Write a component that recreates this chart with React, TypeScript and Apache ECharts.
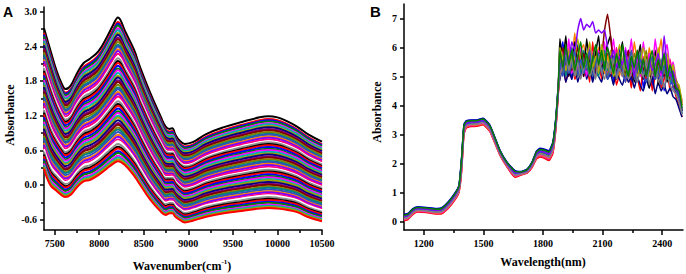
import React, { useEffect, useRef } from "react";
import * as echarts from "echarts";

// ---------- Panel A (wavenumber spectra) ----------
const wavenumberA = [7380, 7450, 7520, 7580, 7620, 7680, 7750, 7825, 7900, 7990, 8090, 8150, 8210, 8290, 8390, 8460, 8570, 8690, 8745, 8790, 8820, 8855, 8900, 8960, 9050, 9200, 9400, 9600, 9800, 9900, 10000, 10100, 10220, 10350, 10500];
const topSpectrumA = [2.71, 2.34, 1.98, 1.75, 1.66, 1.72, 1.93, 2.11, 2.19, 2.31, 2.57, 2.75, 2.9, 2.66, 2.34, 2.03, 1.6, 1.18, 1.01, 0.97, 0.98, 0.87, 0.77, 0.71, 0.74, 0.88, 1.0, 1.09, 1.17, 1.19, 1.17, 1.11, 1.01, 0.87, 0.75];
const bottomSpectrumA = [0.28, 0.0, -0.1, -0.18, -0.21, -0.17, -0.04, 0.06, 0.09, 0.17, 0.29, 0.36, 0.41, 0.34, 0.16, 0.0, -0.25, -0.46, -0.52, -0.49, -0.49, -0.55, -0.6, -0.65, -0.62, -0.55, -0.49, -0.45, -0.41, -0.4, -0.41, -0.43, -0.47, -0.56, -0.63];
// absorbance of each spectrum at 10000 cm-1
const levelsAt10000A = [1.17, 1.12, 1.1, 1.08, 1.05, 1.03, 1.0, 0.98, 0.95, 0.93, 0.9, 0.87, 0.85, 0.82, 0.8, 0.77, 0.74, 0.72, 0.69, 0.67, 0.64, 0.61, 0.59, 0.56, 0.53, 0.51, 0.48, 0.46, 0.43, 0.4, 0.38, 0.35, 0.33, 0.3, 0.27, 0.25, 0.22, 0.2, 0.17, 0.14, 0.12, 0.09, 0.07, 0.04, 0.01, -0.01, -0.04, -0.06, -0.09, -0.12, -0.14, -0.17, -0.19, -0.22, -0.25, -0.27, -0.3, -0.32, -0.35, -0.37, -0.39, -0.41];
const ticksXA = [7500, 8000, 8500, 9000, 9500, 10000, 10500];
const minorXA = [7750, 8250, 8750, 9250, 9750, 10250];
const ticksYA = [-0.6, 0, 0.6, 1.2, 1.8, 2.4, 3.0];
const minorYA = [-0.3, 0.3, 0.9, 1.5, 2.1, 2.7];

// ---------- Panel B (wavelength spectra) ----------
const wavelengthB = [1100, 1120, 1145, 1170, 1212, 1263, 1290, 1321, 1355, 1377, 1390, 1402, 1414, 1440, 1465, 1498, 1532, 1583, 1618, 1659, 1690, 1720, 1745, 1767, 1785, 1805, 1830, 1850, 1865, 1877];
const topBundleB = [0.24, 0.27, 0.44, 0.5, 0.48, 0.44, 0.47, 0.66, 0.96, 1.25, 2.2, 3.35, 3.47, 3.5, 3.5, 3.56, 3.33, 2.46, 2.05, 1.75, 1.72, 1.8, 2.05, 2.42, 2.52, 2.5, 2.44, 2.75, 3.6, 4.7];
const bottomBundleB = [0.02, 0.06, 0.24, 0.32, 0.3, 0.25, 0.26, 0.43, 0.72, 1.0, 1.7, 3.0, 3.22, 3.27, 3.28, 3.33, 3.1, 2.28, 1.88, 1.52, 1.6, 1.66, 1.85, 2.15, 2.22, 2.18, 2.1, 2.35, 3.2, 4.4];
const noiseWavelengthB = [1885, 1900, 1915, 1930, 1945, 1960, 1975, 1990, 2005, 2020, 2035, 2050, 2065, 2080, 2095, 2110, 2125, 2140, 2155, 2170, 2185, 2200, 2215, 2230, 2245, 2260, 2275, 2290, 2305, 2320, 2335, 2350, 2365, 2380, 2395, 2410, 2425, 2440, 2455, 2470, 2485, 2500];
const bBlue = [5.6, 6.2, 5.1, 5.8, 4.9, 5.5, 6.1, 5.0, 5.7, 5.2, 6.0, 4.9, 5.4, 5.9, 5.0, 5.6, 5.1, 5.8, 4.8, 5.5, 6.0, 5.0, 5.3, 5.9, 4.7, 5.4, 5.0, 5.7, 4.6, 5.2, 5.8, 4.6, 5.3, 4.9, 5.5, 4.5, 5.1, 4.7, 4.9, 4.4, 4.2, 3.7];
const bNavy = [4.9, 5.3, 4.8, 5.2, 4.9, 5.4, 4.8, 5.2, 5.5, 4.9, 5.3, 4.8, 5.2, 5.0, 4.8, 5.3, 4.9, 5.1, 4.7, 5.2, 4.9, 4.7, 5.1, 4.8, 5.0, 4.6, 5.0, 4.7, 4.5, 4.9, 4.6, 5.0, 4.4, 4.8, 4.5, 4.7, 4.4, 4.6, 4.3, 4.2, 3.9, 3.6];
const bGreen = [5.9, 5.3, 6.1, 5.4, 5.9, 5.2, 5.7, 6.2, 5.3, 5.8, 5.1, 5.6, 6.1, 5.4, 5.9, 5.2, 6.0, 5.5, 5.1, 5.8, 5.3, 6.1, 5.4, 5.0, 5.7, 5.3, 5.9, 5.1, 5.6, 5.0, 5.5, 5.9, 5.0, 5.6, 5.2, 5.8, 4.9, 5.4, 5.0, 4.6, 4.5, 3.9];
const bBlack = [6.3, 5.5, 6.4, 5.0, 5.6, 6.2, 5.3, 5.9, 5.0, 6.3, 5.4, 5.1, 5.8, 6.4, 5.2, 5.7, 6.1, 6.4, 5.3, 4.9, 5.6, 6.2, 5.1, 5.8, 5.4, 4.8, 5.5, 6.1, 4.9, 5.3, 4.6, 5.4, 5.9, 4.7, 5.2, 5.7, 4.8, 5.3, 5.0, 4.5, 4.3, 3.8];
const bDarkCyan = [5.3, 5.7, 5.0, 5.5, 6.0, 5.2, 5.6, 5.1, 5.9, 5.4, 5.0, 5.7, 5.3, 5.0, 5.6, 5.9, 5.2, 5.5, 5.0, 5.6, 5.2, 5.4, 5.8, 5.1, 5.5, 5.0, 5.3, 5.8, 5.0, 5.4, 5.1, 5.5, 4.9, 5.2, 5.6, 5.0, 5.2, 4.8, 5.0, 4.6, 4.2, 3.7];
const bPurple = [5.8, 5.3, 5.9, 5.5, 6.2, 5.9, 6.6, 7.0, 6.6, 6.8, 6.7, 6.9, 6.5, 6.6, 6.5, 6.6, 6.0, 5.6, 5.9, 5.3, 5.7, 5.4, 5.9, 5.2, 5.6, 5.0, 5.8, 5.3, 5.5, 5.0, 5.6, 5.2, 5.4, 5.8, 5.1, 6.4, 5.3, 5.0, 5.2, 4.7, 4.4, 3.9];
const bOlive = [5.7, 5.1, 5.6, 5.2, 5.7, 5.3, 5.0, 5.5, 5.2, 5.7, 5.4, 5.0, 5.6, 5.2, 5.8, 5.4, 5.0, 5.5, 5.2, 5.7, 5.5, 5.3, 5.0, 5.6, 5.2, 5.8, 5.3, 5.1, 5.5, 5.9, 5.0, 5.3, 5.7, 5.0, 5.4, 5.1, 5.6, 5.0, 4.8, 4.9, 4.5, 4.0];
const bRoyal = [5.5, 5.0, 5.7, 5.1, 5.4, 5.9, 5.0, 5.6, 5.1, 5.5, 5.9, 5.0, 5.4, 5.8, 5.1, 5.5, 4.9, 5.3, 5.7, 5.0, 5.5, 5.2, 4.8, 5.4, 5.9, 4.9, 5.2, 5.6, 5.0, 4.8, 5.3, 5.7, 4.9, 5.2, 4.7, 5.4, 4.9, 5.2, 4.6, 4.5, 4.3, 3.8];
const bWine = [5.5, 6.0, 5.4, 5.7, 5.2, 5.6, 6.0, 5.3, 5.8, 5.4, 5.9, 5.5, 5.2, 5.8, 5.8, 6.6, 7.15, 6.4, 5.4, 5.2, 5.7, 5.1, 5.5, 5.9, 5.2, 5.5, 5.0, 5.6, 5.2, 5.7, 5.1, 5.4, 5.0, 5.5, 5.2, 5.0, 5.4, 4.9, 5.1, 4.6, 4.4, 3.8];
const bDarkYellow = [6.0, 5.6, 5.2, 5.9, 5.3, 5.7, 6.3, 5.5, 5.1, 5.6, 6.2, 5.3, 5.7, 5.1, 6.1, 5.6, 5.3, 5.9, 5.0, 5.4, 6.1, 5.6, 5.2, 5.5, 5.9, 5.3, 5.0, 5.5, 6.0, 5.4, 5.0, 5.6, 5.3, 6.0, 5.2, 5.5, 5.8, 5.1, 5.4, 4.8, 4.7, 4.1];
const bGray = [5.0, 5.4, 5.9, 5.2, 5.6, 5.0, 5.5, 4.9, 5.3, 5.8, 5.0, 5.3, 4.9, 5.7, 5.2, 4.9, 5.5, 5.1, 5.6, 4.9, 5.3, 5.0, 5.6, 4.9, 5.1, 5.6, 4.8, 5.2, 5.0, 5.6, 4.7, 5.1, 5.5, 4.8, 5.0, 4.6, 5.1, 4.7, 4.5, 4.4, 4.1, 3.7];
const bMagenta = [5.2, 5.9, 5.4, 6.3, 5.1, 5.8, 5.3, 6.0, 5.5, 5.0, 6.1, 5.6, 5.2, 5.9, 5.4, 6.2, 5.0, 5.6, 6.3, 5.2, 5.7, 5.0, 6.0, 5.5, 6.3, 5.1, 5.6, 5.0, 6.2, 5.4, 5.8, 5.1, 6.3, 5.4, 5.0, 5.7, 6.1, 5.2, 5.5, 4.9, 4.6, 4.1];
const bOrange = [5.4, 5.8, 5.2, 6.0, 5.6, 6.5, 5.4, 5.9, 6.1, 5.3, 5.8, 5.2, 5.6, 6.0, 5.5, 5.1, 5.7, 5.3, 5.9, 5.5, 5.0, 5.6, 5.2, 5.8, 5.3, 6.2, 5.4, 5.0, 5.7, 5.2, 6.0, 5.4, 5.1, 5.6, 6.3, 5.2, 5.5, 5.1, 5.3, 4.8, 4.6, 4.0];
const bPink = [5.1, 5.6, 5.3, 5.0, 5.5, 5.9, 5.1, 5.4, 5.0, 5.6, 5.2, 5.8, 5.0, 5.4, 5.7, 5.1, 5.4, 5.8, 5.2, 6.0, 5.4, 5.0, 5.3, 5.7, 5.0, 5.3, 5.9, 5.2, 5.0, 5.5, 5.2, 4.9, 5.4, 5.1, 4.8, 5.3, 5.0, 5.6, 4.9, 4.7, 4.5, 4.2];
const bRed = [5.0, 5.5, 4.8, 5.3, 5.8, 4.9, 5.2, 5.7, 5.0, 5.4, 4.8, 6.2, 5.1, 5.6, 4.9, 5.3, 5.8, 5.0, 5.4, 4.7, 5.1, 5.6, 4.8, 5.2, 4.6, 5.5, 5.0, 4.5, 5.3, 4.9, 5.6, 4.5, 5.0, 5.4, 4.6, 4.9, 5.3, 4.5, 4.7, 4.3, 4.0, 3.6];
// absorbance of each spectrum at 1498 nm (top of the 1450 nm band)
const levelsAt1498B = [3.56, 3.545, 3.53, 3.515, 3.5, 3.485, 3.47, 3.455, 3.44, 3.425, 3.41, 3.395, 3.375, 3.355, 3.33];
const ticksXB = [1200, 1500, 1800, 2100, 2400];
const minorXB = [1350, 1650, 1950, 2250];
const ticksYB = [0, 1, 2, 3, 4, 5, 6, 7];

const paletteA = ["#000000", "#ff0000", "#0000ff", "#008000", "#ff00ff", "#00b0b0", "#a0a000", "#000080", "#800080", "#800000", "#808000", "#008080", "#3050c0", "#ff8000", "#8000ff", "#ff0080", "#ffffff", "#909090"];
const colorsB = ["#0000ff", "#000080", "#008000", "#000000", "#008080", "#8000ff", "#808000", "#3050c0", "#800000", "#b0b000", "#808080", "#ff00ff", "#ff8000", "#ff0080", "#ff0000"];
// order in which the panel-B spectra are drawn (last one on top)
const drawOrderB = [0, 14, 13, 1, 12, 3, 11, 4, 8, 6, 9, 7, 10, 5, 2];

const SERIF = '"Liberation Serif", "Times New Roman", serif';
const SANS = '"Liberation Sans", Arial, sans-serif';

export default function App() {
  const ref = useRef<HTMLDivElement>(null);
  useEffect(() => {
    document.body.style.margin = "0";
    if (!ref.current) return;
    const chart = echarts.init(ref.current, undefined, { renderer: "svg" });

    const labelStyle = { fontFamily: SERIF, fontWeight: "bold" as const, fontSize: 10, color: "#000" };
    const lineSt = { color: "#000", width: 1.5 };

    const mainX = (gi: number, min: number, max: number, ticks: number[]) => ({
      gridIndex: gi, type: "value", min, max, position: "bottom",
      splitLine: { show: false },
      axisLine: { show: true, onZero: false, lineStyle: lineSt },
      axisTick: { show: true, inside: false, length: 5, customValues: ticks, lineStyle: lineSt },
      axisLabel: { show: true, margin: 8, customValues: ticks, formatter: (v: number) => String(v), ...labelStyle },
    });
    const minorAxis = (gi: number, min: number, max: number, ticks: number[], pos: string) => ({
      gridIndex: gi, type: "value", min, max, position: pos,
      splitLine: { show: false },
      axisLine: { show: false, onZero: false },
      axisTick: { show: true, inside: false, length: 3, customValues: ticks, lineStyle: lineSt },
      axisLabel: { show: false },
    });
    const mainY = (gi: number, min: number, max: number, ticks: number[], fmt: (v: number) => string) => ({
      gridIndex: gi, type: "value", min, max, position: "left",
      splitLine: { show: false },
      axisLine: { show: true, onZero: false, lineStyle: lineSt },
      axisTick: { show: true, inside: false, length: 4, customValues: ticks, lineStyle: lineSt },
      axisLabel: { show: true, margin: 7, customValues: ticks, formatter: fmt, ...labelStyle },
    });

    const idx10000 = wavenumberA.indexOf(10000);
    const seriesA = levelsAt10000A.map((lvl, i) => {
      const f = (lvl - bottomSpectrumA[idx10000]) / (topSpectrumA[idx10000] - bottomSpectrumA[idx10000]);
      const data = wavenumberA.map((x, k) => [x, bottomSpectrumA[k] + f * (topSpectrumA[k] - bottomSpectrumA[k])]);
      const color = i === levelsAt10000A.length - 1 ? "#ff0000" : paletteA[i % paletteA.length];
      return {
        type: "line", xAxisIndex: 0, yAxisIndex: 0, data, symbol: "none", smooth: 0.4,
        silent: true, lineStyle: { width: 2, color }, z: 2,
      };
    });

    const idx1498 = wavelengthB.indexOf(1498);
    const noiseB = [bBlue, bNavy, bGreen, bBlack, bDarkCyan, bPurple, bOlive, bRoyal, bWine, bDarkYellow, bGray, bMagenta, bOrange, bPink, bRed];
    const seriesB = drawOrderB.map((i) => {
      const lvl = levelsAt1498B[i];
      const f = (lvl - bottomBundleB[idx1498]) / (topBundleB[idx1498] - bottomBundleB[idx1498]);
      const lower = wavelengthB.map((x, k) => [x, bottomBundleB[k] + f * (topBundleB[k] - bottomBundleB[k])]);
      const upper = noiseWavelengthB.map((x, k) => [x, noiseB[i][k]]);
      return {
        type: "line", xAxisIndex: 2, yAxisIndex: 2, data: lower.concat(upper), symbol: "none", smooth: 0.15,
        silent: true, lineStyle: { width: 1.5, color: colorsB[i] }, z: 2,
      };
    });

    const titleStyle = { fontFamily: SERIF, fontWeight: "bold", fontSize: 12, fill: "#000", align: "center", verticalAlign: "middle" };

    chart.setOption({
      animation: false,
      grid: [
        { left: 44, top: 7, width: 278, height: 223, containLabel: false },
        { left: 404, top: 4, width: 279, height: 226, containLabel: false },
      ],
      xAxis: [
        mainX(0, 7380, 10500, ticksXA),
        minorAxis(0, 7380, 10500, minorXA, "bottom"),
        mainX(1, 1100, 2505, ticksXB),
        minorAxis(1, 1100, 2505, minorXB, "bottom"),
      ],
      yAxis: [
        mainY(0, -0.78, 3.08, ticksYA, (v: number) => v.toFixed(1)),
        minorAxis(0, -0.78, 3.08, minorYA, "left"),
        mainY(1, -0.3, 7.5, ticksYB, (v: number) => String(Math.round(v))),
      ],
      series: [...seriesA, ...seriesB],
      graphic: [
        { type: "text", x: 3, y: 12, style: { text: "A", fontFamily: SANS, fontWeight: "bold", fontSize: 14, fill: "#000", align: "left", verticalAlign: "middle" } },
        { type: "text", x: 370, y: 11, style: { text: "B", fontFamily: SANS, fontWeight: "bold", fontSize: 15, fill: "#000", align: "left", verticalAlign: "middle" } },
        { type: "text", x: 10, y: 115, rotation: Math.PI / 2, style: { ...titleStyle, text: "Absorbance" } },
        { type: "text", x: 377, y: 112, rotation: Math.PI / 2, style: { ...titleStyle, text: "Absorbance" } },
        {
          type: "text", x: 182, y: 265,
          style: {
            ...titleStyle,
            text: "{a|Wavenumber(cm}{s|-1}{a|)}",
            rich: {
              a: { fontFamily: SERIF, fontWeight: "bold", fontSize: 12, lineHeight: 14, verticalAlign: "bottom" },
              s: { fontFamily: SERIF, fontWeight: "bold", fontSize: 7, lineHeight: 14, verticalAlign: "top" },
            },
          },
        },
        { type: "text", x: 543, y: 262, style: { ...titleStyle, text: "Wavelength(nm)" } },
      ],
    });
    return () => chart.dispose();
  }, []);
  return <div ref={ref} style={{ width: 686, height: 274 }} />;
}
